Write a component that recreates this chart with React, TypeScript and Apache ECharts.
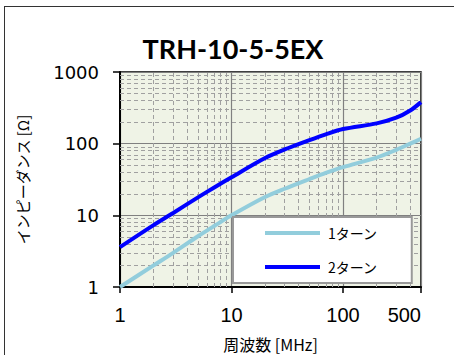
import React, { useEffect, useRef } from "react";
import * as echarts from "echarts";

const title = "TRH-10-5-5EX";
const xName = "周波数 [MHz]";
const yName = "インピーダンス [Ω]";
const seriesNames = ["1ターン", "2ターン"];
const freqs = [1, 2, 3, 5, 7, 10, 20, 30, 50, 70, 100, 200, 300, 400, 500];
const turn1 = [1, 2, 3, 5.1, 7.1, 10, 18, 23.5, 32, 39, 47, 64, 82, 100, 117];
const turn2 = [3.6, 7.3, 10.8, 17.8, 24.5, 34, 63, 83, 112, 135, 160, 192, 230, 290, 380];
const minorX = [2, 3, 4, 5, 6, 7, 8, 9, 20, 30, 40, 50, 60, 70, 80, 90, 200, 300, 400];
const minorY = [2, 3, 4, 5, 6, 7, 8, 9, 20, 30, 40, 50, 60, 70, 80, 90, 200, 300, 400, 500, 600, 700, 800, 900];

export default function App() {
  const ref = useRef<HTMLDivElement>(null);
  useEffect(() => {
    if (!ref.current) return;
    const chart = echarts.init(ref.current, null, { renderer: "svg" });
    const jp = "'Noto Sans CJK JP', sans-serif";
    chart.setOption({
      animation: false,
      title: {
        text: title,
        left: 228,
        top: 30,
        textAlign: "center",
        textStyle: { fontFamily: "Lato", fontWeight: "bold", fontSize: 27, color: "#000" },
      },
      grid: {
        left: 120,
        top: 72,
        right: 33,
        bottom: 68,
        show: true,
        containLabel: false,
        outerBoundsMode: "none",
        backgroundColor: "#eff3e6",
        borderColor: "#000",
        borderWidth: 1.5,
      },
      legend: {
        data: seriesNames,
        orient: "vertical",
        left: 233,
        top: 217,
        z: 10,
        padding: [9, 34, 9, 32],
        itemGap: 20,
        itemWidth: 55,
        itemHeight: 4,
        icon: "rect",
        backgroundColor: "#fff",
        borderColor: "#999",
        borderWidth: 2,
        borderRadius: 0,
        textStyle: { fontFamily: jp, fontSize: 14, lineHeight: 14, color: "#000", padding: [0, 0, 0, 3] },
      },
      xAxis: {
        type: "log",
        logBase: 10,
        min: 1,
        max: 500,
        name: xName,
        nameLocation: "middle",
        nameGap: 49,
        nameTextStyle: { fontFamily: jp, fontSize: 16, lineHeight: 16, color: "#000" },
        axisLine: { show: true, lineStyle: { color: "#000", width: 2 } },
        axisTick: { show: true, length: 6, lineStyle: { color: "#000", width: 1.5 } },
        axisLabel: {
          fontFamily: "Liberation Sans",
          fontSize: 20,
          color: "#000",
          margin: 18,
          alignMaxLabel: "right",
          formatter: (v: number) => String(v),
        },
        splitLine: { show: true, lineStyle: { color: "#808080", width: 1.2 } },
        minorTick: { show: false },
      },
      yAxis: {
        type: "log",
        logBase: 10,
        min: 1,
        max: 1000,
        name: yName,
        nameLocation: "middle",
        nameGap: 90,
        nameTextStyle: { fontFamily: jp, fontSize: 15, color: "#000" },
        axisLine: { show: true, lineStyle: { color: "#000", width: 2 } },
        axisTick: { show: true, length: 7, lineStyle: { color: "#000", width: 1.5 } },
        axisLabel: {
          fontFamily: "DejaVu Sans",
          fontSize: 18,
          color: "#000",
          margin: 21,
          formatter: (v: number) => String(v),
        },
        splitLine: { show: true, lineStyle: { color: "#808080", width: 1.2 } },
      },
      series: [
        {
          name: "grid-minor",
          type: "line",
          data: [],
          silent: true,
          z: 1,
          markLine: {
            silent: true,
            z: 1,
            symbol: "none",
            label: { show: false },
            lineStyle: { color: "#a0a0a0", type: [4, 3], width: 1 },
            data: [
              ...minorX.map((v) => ({ xAxis: v })),
              ...minorY.map((v) => ({ yAxis: v })),
            ],
          },
        },
        {
          name: seriesNames[0],
          type: "line",
          data: freqs.map((f, i) => [f, turn1[i]]),
          showSymbol: false,
          smooth: 0.3,
          z: 3,
          color: "#92cddc",
          lineStyle: { color: "#92cddc", width: 4 },
        },
        {
          name: seriesNames[1],
          type: "line",
          data: freqs.map((f, i) => [f, turn2[i]]),
          showSymbol: false,
          smooth: 0.3,
          z: 3,
          color: "#0000ff",
          lineStyle: { color: "#0000ff", width: 4 },
        },
      ],
    });
    return () => chart.dispose();
  }, []);
  return (
    <div style={{ position: "fixed", left: 0, top: 0, width: 454, height: 355, overflow: "hidden", background: "#fff" }}>
      <div
        style={{
          position: "absolute",
          left: 4,
          top: 6,
          width: 470,
          height: 370,
          border: "1.5px solid #333",
          boxSizing: "border-box",
        }}
      />
      <div ref={ref} style={{ position: "absolute", left: 0, top: 0, width: 454, height: 355 }} />
    </div>
  );
}
